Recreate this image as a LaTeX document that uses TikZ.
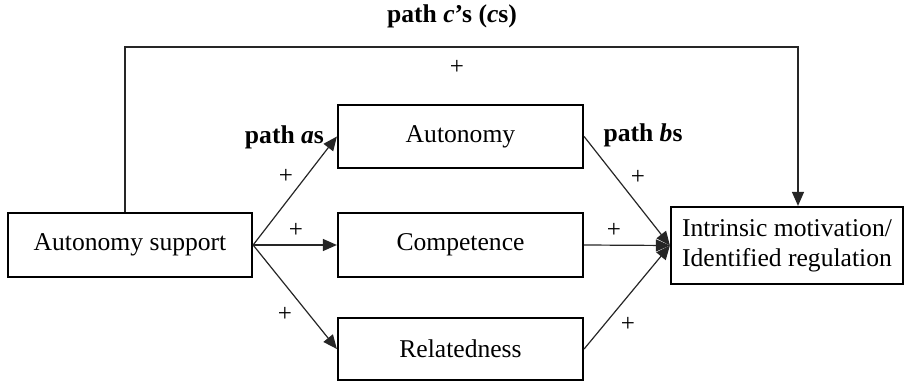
\documentclass[tikz,border=0pt]{standalone}
\usepackage{fontspec}
\setmainfont{Liberation Serif}
\usetikzlibrary{arrows.meta}

\tikzset{
  varbox/.style={draw, line width=1.1pt, inner sep=0pt, align=center,
    font=\fontsize{12.8}{15}\selectfont},
  pathline/.style={line width=0.6pt, draw=black!85},
  tip/.style={-{Triangle[length=7pt,width=6pt]}},
  sign/.style={font=\fontsize{12.5}{15}\selectfont},
  pathlbl/.style={font=\fontsize{12.8}{15}\selectfont\bfseries}
}

\begin{document}
\begin{tikzpicture}[x=0.5pt,y=-0.5pt]
\useasboundingbox (0,0) rectangle (906,385);
% boxes
\node[varbox, minimum width=122pt, minimum height=32pt] (aus) at (130,245) {Autonomy support};
\node[varbox, minimum width=122.5pt, minimum height=31.5pt] (aut) at (460.5,136.5) {Autonomy};
\node[varbox, minimum width=122.5pt, minimum height=32pt] (com) at (460.5,245) {Competence};
\node[varbox, minimum width=122.5pt, minimum height=31pt] (rel) at (460.5,349) {Relatedness};
\node[varbox, minimum width=116pt, minimum height=38.5pt] (imo) at (787,245.5) {Intrinsic motivation/\\Identified regulation};
% paths a
\draw[pathline, tip] (aus.east) -- (aut.west);
\draw[pathline, tip] (aus.east) -- (com.west);
\draw[pathline, tip] (aus.east) -- (rel.west);
% paths b
\draw[pathline, tip] (aut.east) -- (imo.west);
\draw[pathline, tip] (com.east) -- (imo.west);
\draw[pathline, tip] (rel.east) -- (imo.west);
% path c'
\coordinate (c1) at (125,47);
\coordinate (c2) at (798,47);
\draw[pathline, tip] (aus.north -| c1) -- (c1) -- (c2) -- (imo.north -| c2);
% labels
\node[pathlbl] (lc) at (452,16) {path \textit{c}’s (\textit{c}s)};
\node[sign] (pc) at (457,67) {+};
\node[pathlbl, anchor=east] (la) at (331,137) {path \textit{a}s};
\node[pathlbl] (lb) at (643,135) {path \textit{b}s};
\node[sign] (pa1) at (286,176) {+};
\node[sign] (pa2) at (296,230) {+};
\node[sign] (pa3) at (285,314) {+};
\node[sign] (pb1) at (638,177) {+};
\node[sign] (pb2) at (614,230) {+};
\node[sign] (pb3) at (628,324) {+};
\end{tikzpicture}
\end{document}
